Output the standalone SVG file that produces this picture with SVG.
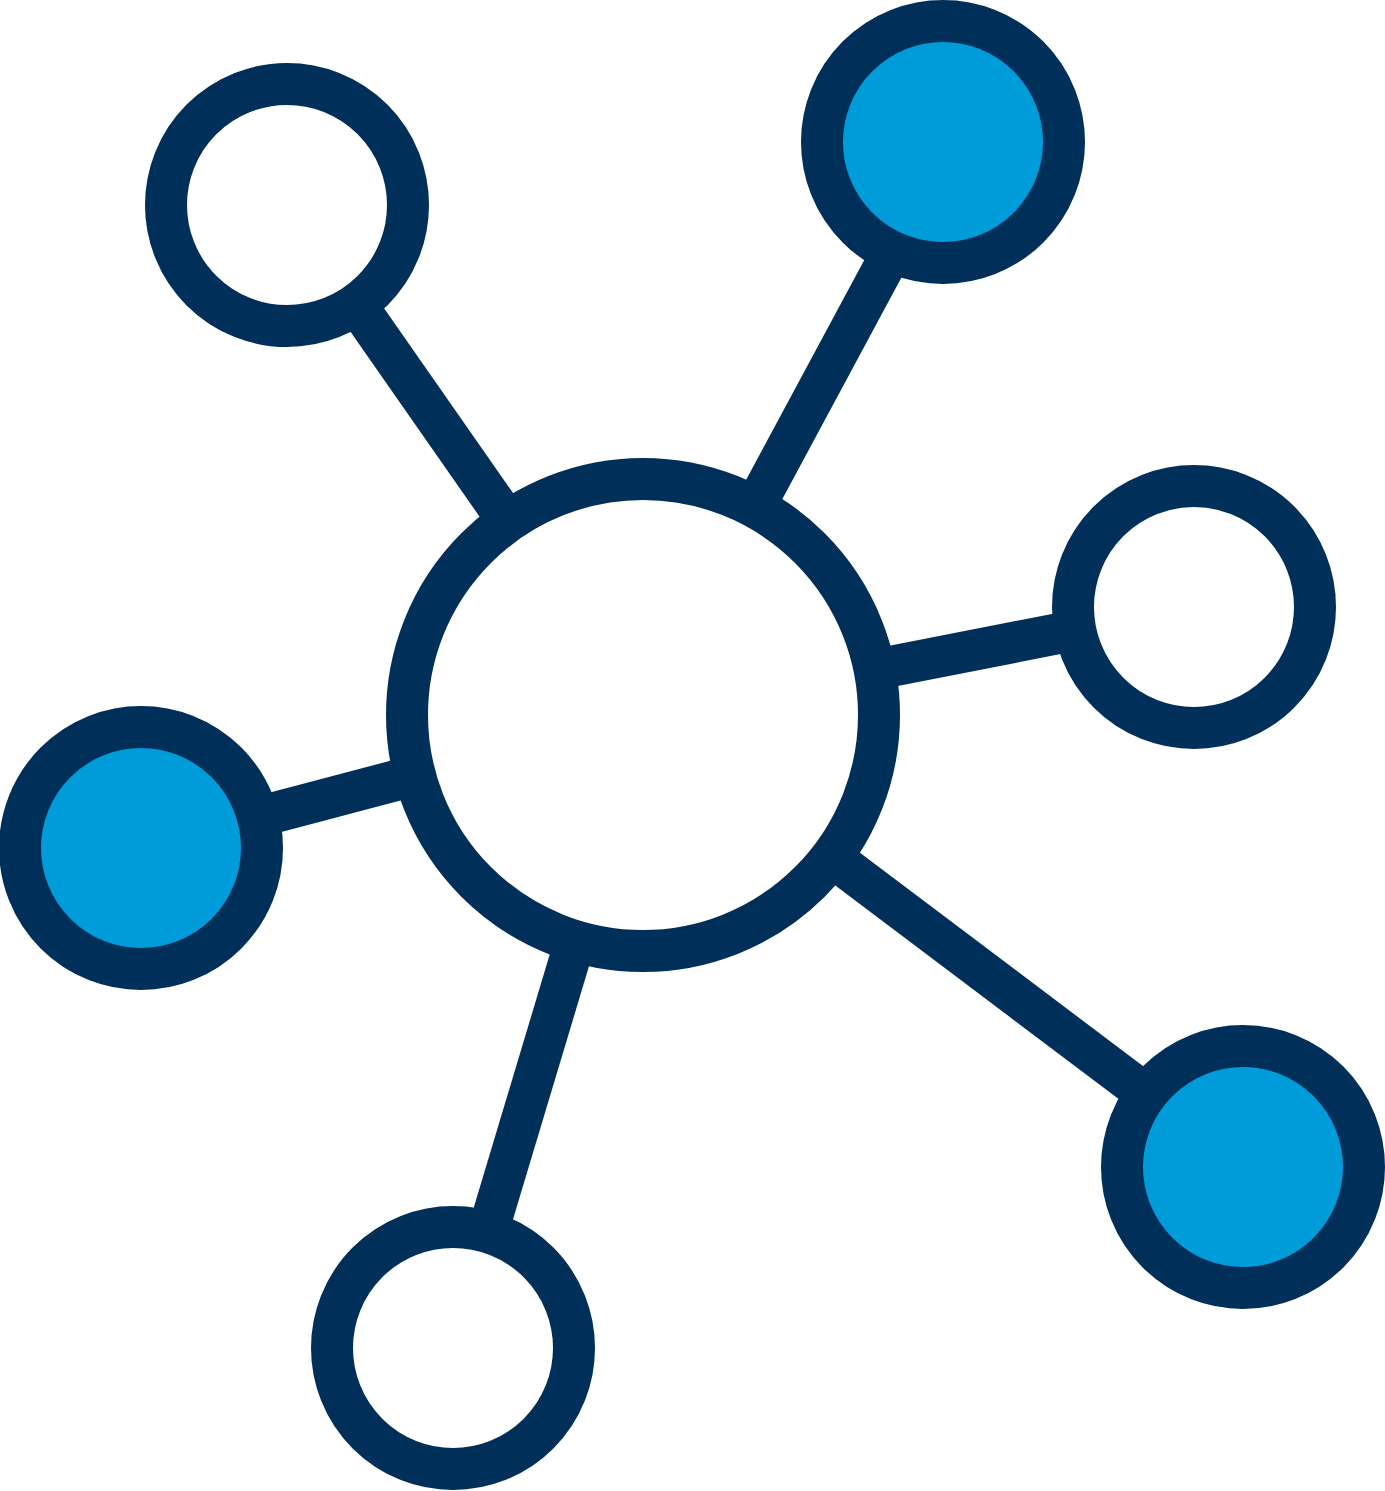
<svg xmlns="http://www.w3.org/2000/svg" width="1385" height="1491" viewBox="0 0 1385 1491">
<style>
.edge{stroke:#00305A;stroke-width:41;fill:none}
.node{stroke:#00305A;stroke-width:42}
.w{fill:#FFFFFF}
.b{fill:#009BD9}
</style>
<rect width="1385" height="1491" fill="#FFFFFF"/>
<g id="connectors">
<line class="edge" x1="643" y1="715" x2="287" y2="205"/>
<line class="edge" x1="643" y1="715" x2="951" y2="142"/>
<line class="edge" x1="643" y1="715" x2="1194" y2="607"/>
<line class="edge" x1="643" y1="715" x2="141" y2="848"/>
<line class="edge" x1="643" y1="715" x2="453" y2="1348"/>
<line class="edge" x1="643" y1="715" x2="1243" y2="1167"/>
</g>
<g id="center"><circle class="node w" cx="643" cy="715" r="236"/></g>
<g id="node-top-left"><circle class="node w" cx="287" cy="205" r="121"/></g>
<g id="node-top-right"><circle class="node b" cx="943" cy="142" r="121"/></g>
<g id="node-right"><circle class="node w" cx="1194" cy="607" r="121"/></g>
<g id="node-left"><circle class="node b" cx="141" cy="848" r="121"/></g>
<g id="node-bottom"><circle class="node w" cx="453" cy="1348" r="121"/></g>
<g id="node-bottom-right"><circle class="node b" cx="1243" cy="1167" r="121"/></g>
</svg>
